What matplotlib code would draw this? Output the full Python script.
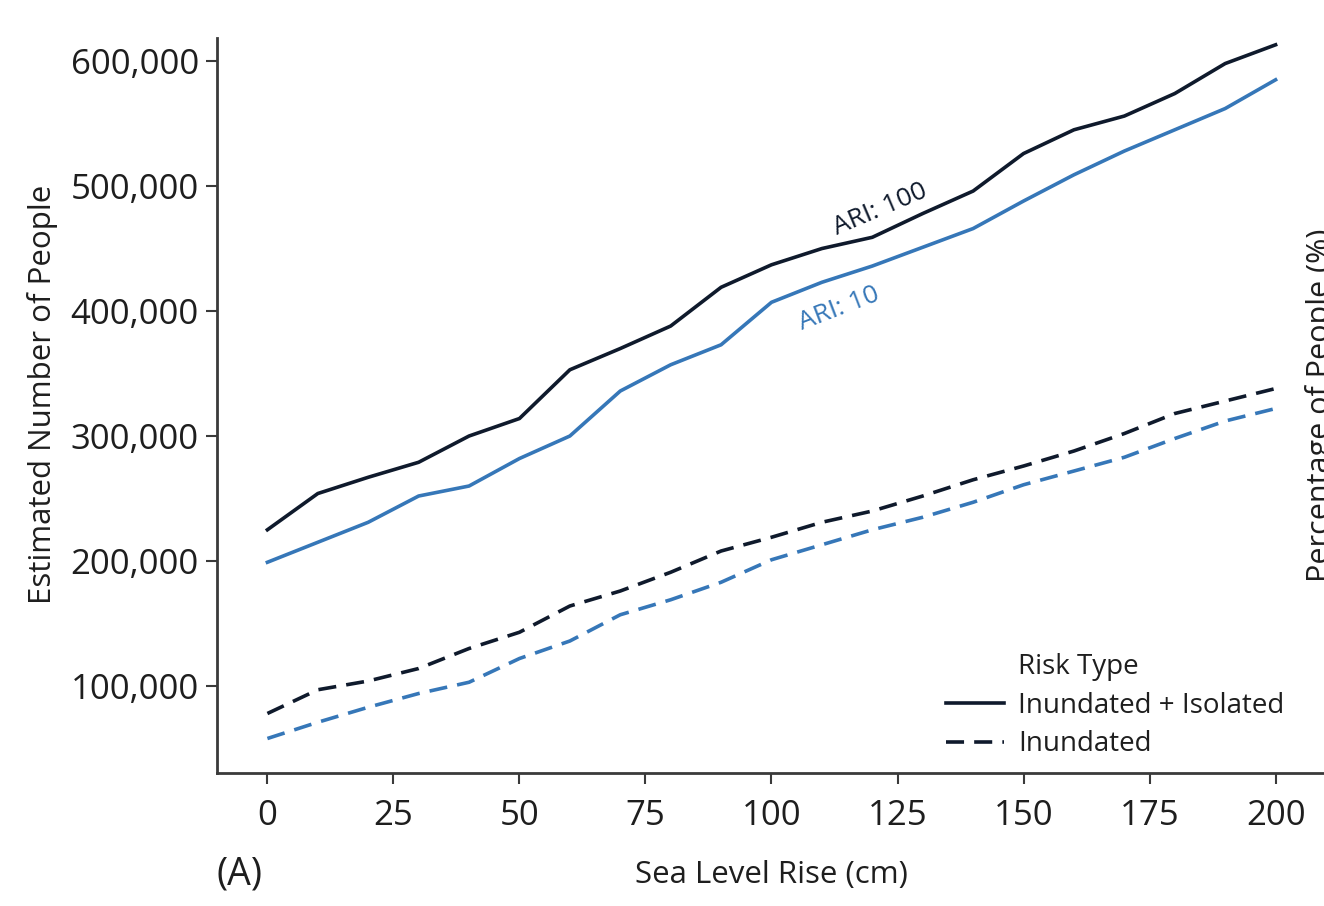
import numpy as np
import matplotlib
matplotlib.use("Agg")
import matplotlib.pyplot as plt
from matplotlib.lines import Line2D
from matplotlib.ticker import FuncFormatter


# ============================================================
# Data
# ============================================================

sea_level_rise = list(range(0, 201, 10))

ari100_inund_isol = [
    225000, 254000, 267000, 279000, 300000, 314000, 353000, 370000,
    388000, 419000, 437000, 450000, 459000, 478000, 496000, 526000,
    545000, 556000, 574000, 598000, 613000,
]
ari10_inund_isol = [
    199000, 215000, 231000, 252000, 260000, 282000, 300000, 336000,
    357000, 373000, 407000, 423000, 436000, 451000, 466000, 488000,
    509000, 528000, 545000, 562000, 585000,
]
ari100_inund = [
    78000, 97000, 104000, 114000, 130000, 143000, 164000, 176000,
    191000, 208000, 219000, 231000, 240000, 252000, 265000, 276000,
    288000, 302000, 318000, 328000, 338000,
]
ari10_inund = [
    58000, 71000, 83000, 94000, 103000, 122000, 136000, 157000,
    169000, 183000, 201000, 213000, 225000, 235000, 247000, 261000,
    272000, 283000, 298000, 312000, 322000,
]

x_ticks = [0, 25, 50, 75, 100, 125, 150, 175, 200]
y_ticks = [100000, 200000, 300000, 400000, 500000, 600000]

# ============================================================
# Style
# ============================================================

DARK = "#0f1a2c"
BLUE = "#3677b8"
TEXT = "#1e1e1e"
DASHES = (5.0, 2.8)
LW = 2.6

plt.rcParams["font.family"] = ["Open Sans", "DejaVu Sans"]


def main() -> None:
    fig = plt.figure(figsize=(13.24, 9.06), dpi=100)
    ax = fig.add_axes([0.1639, 0.1468, 0.8376, 0.8112])

    ax.plot(sea_level_rise, ari100_inund_isol, color=DARK, lw=LW,
            solid_joinstyle="round")
    ax.plot(sea_level_rise, ari10_inund_isol, color=BLUE, lw=LW,
            solid_joinstyle="round")
    ax.plot(sea_level_rise, ari100_inund, color=DARK, lw=LW,
            dashes=DASHES)
    ax.plot(sea_level_rise, ari10_inund, color=BLUE, lw=LW,
            dashes=DASHES)

    ax.set_xlim(-10, 210)
    ax.set_ylim(30400, 618400)
    ax.set_xticks(x_ticks)
    ax.set_yticks(y_ticks)
    ax.yaxis.set_major_formatter(FuncFormatter(lambda v, _: f"{int(v):,}"))

    for side in ("top", "right"):
        ax.spines[side].set_visible(False)
    for side in ("left", "bottom"):
        ax.spines[side].set_linewidth(2.0)
        ax.spines[side].set_color("#3a3a3a")

    ax.tick_params(axis="both", direction="out", length=8, width=1.5,
                   color="#3a3a3a", labelsize=25, labelcolor=TEXT)
    ax.tick_params(axis="x", pad=11)
    ax.tick_params(axis="y", pad=5)

    ax.set_xlabel("Sea Level Rise (cm)", fontsize=22.5, color=TEXT,
                  labelpad=19)
    ax.set_ylabel("Estimated Number of People", fontsize=22.5, color=TEXT)
    ax.yaxis.set_label_coords(-0.143, 0.515)

    # inline series labels
    ax.text(113, 461000, "ARI: 100", fontsize=19, color=DARK, rotation=23,
            ha="left", va="baseline", rotation_mode="anchor")
    ax.text(106, 385000, "ARI: 10", fontsize=19, color=BLUE, rotation=21,
            ha="left", va="baseline", rotation_mode="anchor")

    # legend for risk type (title kept in line with the labels)
    h_title = Line2D([], [], color="none")
    h_solid = Line2D([], [], color=DARK, lw=LW)
    h_dash = Line2D([], [], color=DARK, lw=LW, dashes=DASHES)
    leg = ax.legend([h_title, h_solid, h_dash],
                    ["Risk Type", "Inundated + Isolated", "Inundated"],
                    loc="lower right", bbox_to_anchor=(0.985, -0.014),
                    frameon=False, fontsize=20, handlelength=2.1,
                    handletextpad=0.5, labelspacing=0.38)
    for t in leg.get_texts():
        t.set_color(TEXT)

    fig.text(217 / 1324, 1 - 874 / 906, "(A)", fontsize=27, color=TEXT,
             ha="left", va="center")
    fig.text(1320 / 1324, 1 - 405 / 906, "Percentage of People (%)",
             fontsize=22, color=TEXT, rotation=90, ha="center", va="center")

    fig.savefig("out.png", dpi=100)
    plt.close(fig)


if __name__ == "__main__":
    main()
